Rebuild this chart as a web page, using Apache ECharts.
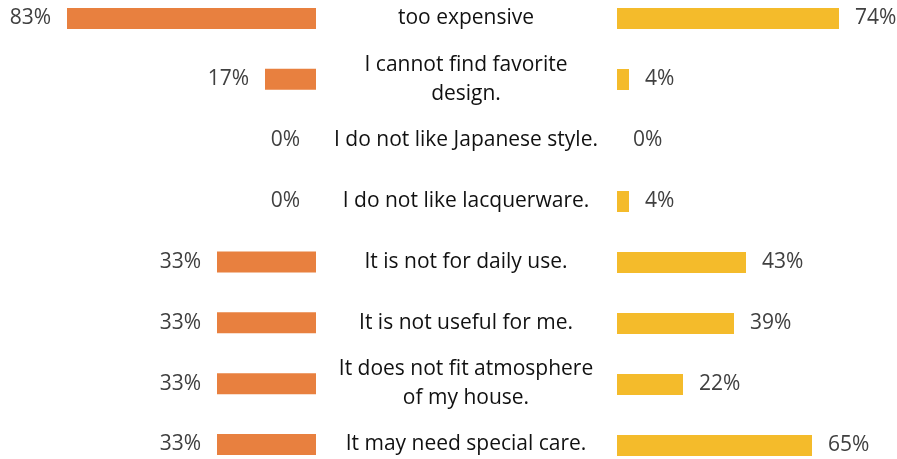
<!DOCTYPE html>
<html><head><meta charset="utf-8">
<script src="https://cdn.jsdelivr.net/npm/echarts@6/dist/echarts.min.js"></script>
<style>html,body{margin:0;padding:0;background:#fff}#c{width:897px;height:459px}</style>
</head><body><div id="c"></div>
<script>
const categories = [
  "too expensive",
  "I cannot find favorite\ndesign.",
  "I do not like Japanese style.",
  "I do not like lacquerware.",
  "It is not for daily use.",
  "It is not useful for me.",
  "It does not fit atmosphere\nof my house.",
  "It may need special care."
];
const leftValues = [83, 17, 0, 0, 33, 33, 33, 33];
const rightValues = [74, 4, 0, 4, 43, 39, 22, 65];

const FONT = "Open Sans";
const FS = 21;
const chart = echarts.init(document.getElementById('c'), null, {renderer: 'canvas'});
chart.setOption({
  animation: false,
  grid: [
    {left: 16, width: 300, top: 18.5, height: 427},
    {left: 617, width: 270, top: 18.5, height: 427}
  ],
  xAxis: [
    {gridIndex: 0, type: 'value', min: 0, max: 100, inverse: true, show: false},
    {gridIndex: 1, type: 'value', min: 0, max: 90, show: false}
  ],
  yAxis: [
    {gridIndex: 0, type: 'category', data: categories, inverse: true, position: 'right', boundaryGap: false,
     axisLine: {show: false}, axisTick: {show: false}, splitLine: {show: false},
     axisLabel: {align: 'center', margin: 150, fontFamily: FONT, fontSize: FS, color: '#111', lineHeight: 29}},
    {gridIndex: 1, type: 'category', data: categories, inverse: true, show: false, boundaryGap: false}
  ],
  series: [
    {type: 'bar', xAxisIndex: 0, yAxisIndex: 0, data: leftValues, barWidth: 21,
     itemStyle: {color: '#E8803F'},
     label: {show: true, position: 'left', distance: 16, formatter: '{c}%', fontFamily: FONT, fontSize: FS, color: '#404040'}},
    {type: 'bar', xAxisIndex: 1, yAxisIndex: 1, data: rightValues, barWidth: 21,
     itemStyle: {color: '#F4BB2B'},
     label: {show: true, position: 'right', distance: 16, formatter: '{c}%', fontFamily: FONT, fontSize: FS, color: '#404040'}}
  ]
});
</script></body></html>
